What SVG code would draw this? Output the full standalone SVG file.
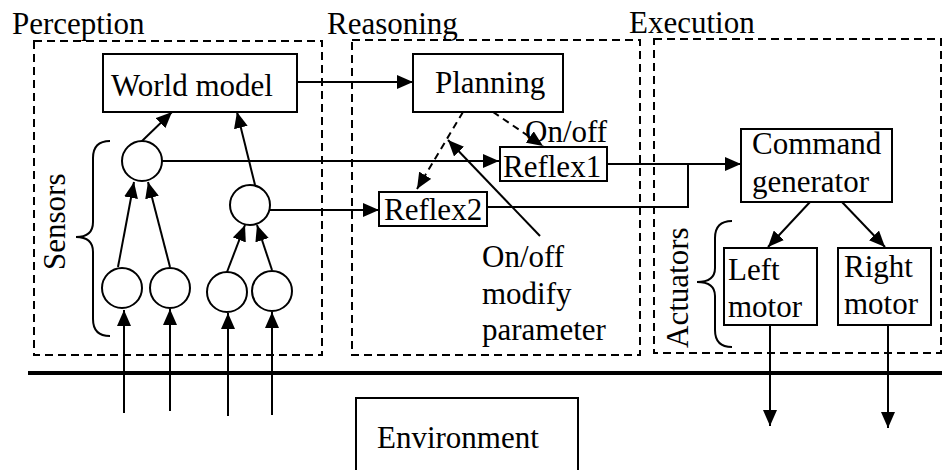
<svg xmlns="http://www.w3.org/2000/svg" width="942" height="470" viewBox="0 0 942 470" font-family="'Liberation Serif', 'DejaVu Serif', serif">
<style>
text{font-family:"Liberation Serif","DejaVu Serif",serif;font-size:31px;fill:#000}
.box{fill:#fff;stroke:#000;stroke-width:2}
.zone{fill:none;stroke:#000;stroke-width:2;stroke-dasharray:8 5}
.ln{fill:none;stroke:#000;stroke-width:2}
.dash{fill:none;stroke:#000;stroke-width:2;stroke-dasharray:7 5}
</style>
<defs>
<marker id="ah" markerUnits="userSpaceOnUse" markerWidth="16" markerHeight="14" viewBox="0 0 16 14" refX="16" refY="7" orient="auto">
<path d="M0,0 L16,7 L0,14 Z" fill="#000"/>
</marker>
</defs>
<rect width="942" height="470" fill="#fff"/>
<g id="zones">
<rect class="zone" x="34" y="41" width="288" height="314"/>
<rect class="zone" x="352" y="40" width="288" height="315"/>
<rect class="zone" x="654" y="39" width="287" height="314"/>
<text x="12" y="34">Perception</text>
<text x="327" y="34">Reasoning</text>
<text x="629" y="33">Execution</text>
</g>
<line x1="28" y1="373" x2="942" y2="373" stroke="#000" stroke-width="4"/>
<g id="sensors-label">
<path class="ln" d="M110,141 Q93,141 93,158 L93,222 Q93,237 76,237 Q93,237 93,252 L93,319 Q93,336 110,336"/>
<text transform="translate(65,270) rotate(-90)">Sensors</text>
</g>
<g id="actuators-label">
<path class="ln" d="M732,221 Q715,221 715,238 L715,268 Q715,282 697,282 Q715,282 715,296 L715,330 Q715,347 732,347"/>
<text transform="translate(688,348) rotate(-90)">Actuators</text>
</g>
<g id="connectors">
<line class="ln" x1="297" y1="82" x2="413" y2="82" marker-end="url(#ah)"/>
<line class="ln" x1="142" y1="141" x2="172" y2="112" marker-end="url(#ah)"/>
<line class="ln" x1="255" y1="185" x2="237" y2="112" marker-end="url(#ah)"/>
<line class="ln" x1="161" y1="161" x2="499" y2="161" marker-end="url(#ah)"/>
<line class="ln" x1="270" y1="210" x2="379" y2="210" marker-end="url(#ah)"/>
<line class="ln" x1="118" y1="267" x2="134" y2="182" marker-end="url(#ah)"/>
<line class="ln" x1="170" y1="267" x2="148" y2="182" marker-end="url(#ah)"/>
<line class="ln" x1="227" y1="272" x2="245" y2="225" marker-end="url(#ah)"/>
<line class="ln" x1="272" y1="270" x2="257" y2="225" marker-end="url(#ah)"/>
<line class="ln" x1="124" y1="413" x2="124" y2="310" marker-end="url(#ah)"/>
<line class="ln" x1="170" y1="411" x2="170" y2="309" marker-end="url(#ah)"/>
<line class="ln" x1="228" y1="416" x2="228" y2="313" marker-end="url(#ah)"/>
<line class="ln" x1="272" y1="415" x2="272" y2="312" marker-end="url(#ah)"/>
<line class="dash" x1="463" y1="112" x2="417" y2="189" marker-end="url(#ah)"/>
<line class="dash" x1="493" y1="112" x2="543" y2="146" marker-end="url(#ah)"/>
<line class="ln" x1="540" y1="236" x2="448" y2="140" marker-end="url(#ah)"/>
<line class="ln" x1="607" y1="164" x2="741" y2="164" marker-end="url(#ah)"/>
<polyline class="ln" points="487,207 688,207 688,164"/>
<line class="ln" x1="810" y1="202" x2="768" y2="247" marker-end="url(#ah)"/>
<line class="ln" x1="842" y1="202" x2="885" y2="247" marker-end="url(#ah)"/>
<line class="ln" x1="770" y1="325" x2="770" y2="426" marker-end="url(#ah)"/>
<line class="ln" x1="888" y1="325" x2="888" y2="428" marker-end="url(#ah)"/>
</g>
<g id="world-model">
<rect class="box" x="103" y="54" width="194" height="58"/>
<text x="111" y="96">World model</text>
</g>
<g id="planning">
<rect class="box" x="413" y="54" width="150" height="58"/>
<text x="435" y="93">Planning</text>
</g>
<g id="onoff-label">
<text x="525" y="142">On/off</text>
</g>
<g id="reflex1">
<rect class="box" x="500" y="147" width="107" height="34"/>
<text x="503" y="177">Reflex1</text>
</g>
<g id="reflex2">
<rect class="box" x="379" y="192" width="108" height="34"/>
<text x="384" y="220">Reflex2</text>
</g>
<g id="param-label">
<text x="482" y="267">On/off</text>
<text x="482" y="304">modify</text>
<text x="482" y="340">parameter</text>
</g>
<g id="sensor-top"><circle class="box" cx="142" cy="161" r="20"/></g>
<g id="sensor-mid"><circle class="box" cx="250" cy="205" r="20"/></g>
<g id="sensor-a"><circle class="box" cx="122" cy="288" r="20"/></g>
<g id="sensor-b"><circle class="box" cx="170" cy="288" r="20"/></g>
<g id="sensor-c"><circle class="box" cx="227" cy="292" r="20"/></g>
<g id="sensor-d"><circle class="box" cx="272" cy="291" r="20"/></g>
<g id="command-generator">
<rect class="box" x="741" y="129" width="151" height="73"/>
<text x="752" y="154">Command</text>
<text x="752" y="192">generator</text>
</g>
<g id="left-motor">
<rect class="box" x="724" y="248" width="93" height="77"/>
<text x="728" y="280">Left</text>
<text x="728" y="317">motor</text>
</g>
<g id="right-motor">
<rect class="box" x="838" y="248" width="93" height="77"/>
<text x="844" y="277">Right</text>
<text x="844" y="314">motor</text>
</g>
<g id="environment">
<rect class="box" x="356" y="398" width="222" height="90"/>
<text x="377" y="448">Environment</text>
</g>
</svg>
